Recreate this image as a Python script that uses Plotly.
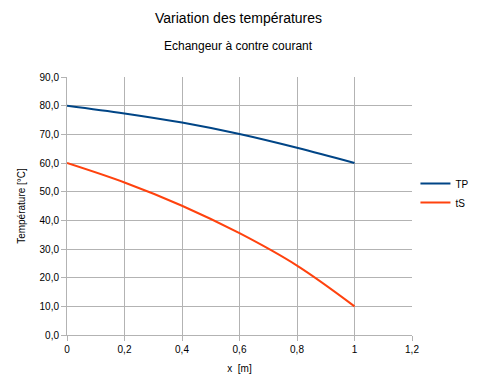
import plotly.graph_objects as go

x_m = [0, 0.2, 0.4, 0.6, 0.8, 1.0]
tp_values = [80.0, 77.3, 74.1, 70.1, 65.3, 60.0]
ts_values = [60.0, 53.2, 45.1, 35.5, 24.2, 10.0]

x_ticks = [0, 0.2, 0.4, 0.6, 0.8, 1.0, 1.2]
x_tick_labels = ["0", "0,2", "0,4", "0,6", "0,8", "1", "1,2"]
y_ticks = [0, 10, 20, 30, 40, 50, 60, 70, 80, 90]
y_tick_labels = ["0,0", "10,0", "20,0", "30,0", "40,0", "50,0", "60,0", "70,0", "80,0", "90,0"]

font = "Liberation Sans, Arial, sans-serif"
grid = "#b3b3b3"

fig = go.Figure()
fig.add_trace(go.Scatter(x=x_m, y=tp_values, name="TP", mode="lines",
                         line=dict(color="#004586", width=2, shape="spline")))
fig.add_trace(go.Scatter(x=x_m, y=ts_values, name="tS", mode="lines",
                         line=dict(color="#ff420e", width=2, shape="spline")))

# page body has an 8px default margin
OFF = 8
W, H = 479 - OFF, 388 - OFF
L, T = 67 - OFF, 77 - OFF
R = W - (412 - OFF)
B = H - (335 - OFF)
plot_w = W - L - R
plot_h = H - T - B

def px_x(px):
    return (px - OFF - L) / plot_w

def px_y(py):
    return (H - B - (py - OFF)) / plot_h

fig.update_layout(
    width=W, height=H,
    margin=dict(l=L, r=R, t=T, b=B, autoexpand=False),
    paper_bgcolor="white", plot_bgcolor="white",
    font=dict(family=font, size=10, color="#000000"),
    separators=", ",
    showlegend=True,
    legend=dict(x=1.01, y=0.643, xanchor="left", yanchor="top",
                font=dict(size=10, family=font), itemwidth=30,
                bgcolor="rgba(0,0,0,0)", tracegroupgap=0),
)
fig.add_annotation(text="Variation des températures", xref="paper", yref="paper",
                   x=px_x(238), y=px_y(18), showarrow=False,
                   font=dict(size=14, family=font), yanchor="middle")
fig.add_annotation(text="Echangeur à contre courant", xref="paper", yref="paper",
                   x=px_x(238), y=px_y(46), showarrow=False,
                   font=dict(size=12, family=font), yanchor="middle")

fig.update_xaxes(range=[0, 1.2], tickvals=x_ticks, ticktext=x_tick_labels,
                 showgrid=True, gridcolor=grid, gridwidth=1,
                 showline=True, linecolor=grid, linewidth=1,
                 ticks="outside", ticklen=5, tickcolor=grid,
                 zeroline=False, mirror=False, automargin=False,
                 title=dict(text="x  [m]", font=dict(size=10, family=font), standoff=10))
fig.update_yaxes(range=[0, 90], tickvals=y_ticks, ticktext=y_tick_labels,
                 showgrid=True, gridcolor=grid, gridwidth=1,
                 showline=True, linecolor=grid, linewidth=1,
                 ticks="outside", ticklen=5, tickcolor=grid,
                 zeroline=False, automargin=False,
                 title=dict(text="Température [°C]", font=dict(size=10, family=font), standoff=12))

fig.write_html("out.html")
